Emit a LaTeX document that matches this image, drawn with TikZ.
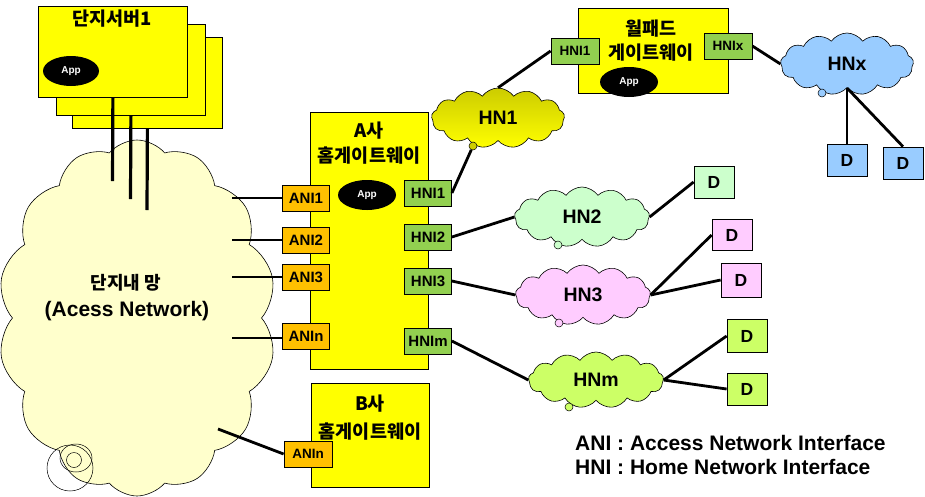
\documentclass[tikz,border=0pt]{standalone}
\usepackage{fontspec}
\setmainfont{Liberation Sans}
\newfontfamily\kr{Noto Sans CJK KR}
\usetikzlibrary{shapes.symbols,shapes.geometric}
\definecolor{boxyellow}{HTML}{FFFF00}
\definecolor{aniorange}{HTML}{FFC000}
\definecolor{hnigreen}{HTML}{92D050}
\definecolor{acloud}{HTML}{FFFFCC}
\definecolor{olive}{HTML}{CCCC00}
\definecolor{hblue}{HTML}{99CCFF}
\definecolor{hgreen}{HTML}{CCFFCC}
\definecolor{hpink}{HTML}{FFCCFF}
\definecolor{hlime}{HTML}{CCFF66}
\tikzset{
 gwbox/.style={draw, line width=0.8pt, fill=boxyellow, inner sep=0, anchor=north west},
 title/.style={font=\kr\bfseries\fontsize{18.5}{20}\selectfont, inner sep=0},
 ani/.style={draw, line width=0.8pt, fill=aniorange, minimum width=47pt, minimum height=26pt, inner sep=0, font=\bfseries\fontsize{15}{15}\selectfont},
 hni/.style={draw, line width=0.8pt, fill=hnigreen, minimum width=47pt, minimum height=26pt, inner sep=0, font=\bfseries\fontsize{15}{15}\selectfont},
 app/.style={ellipse, fill=black, text=white, minimum width=58pt, minimum height=30pt, inner sep=0, font=\bfseries\fontsize{10}{10}\selectfont},
 conn/.style={line width=2.8pt},
 netcloud/.style={cloud, cloud puffs=13, cloud puff arc=110, cloud ignores aspect, draw, line width=0.6pt, inner sep=0, font=\bfseries\fontsize{19.5}{19.5}\selectfont},
 dev/.style={draw, line width=0.8pt, minimum width=40pt, minimum height=32pt, inner sep=0, font=\bfseries\fontsize{17.5}{17.5}\selectfont},
 knob/.style={circle, draw, line width=0.5pt, minimum size=8pt, inner sep=0},
 legend/.style={anchor=west, inner sep=0, font=\bfseries\fontsize{21}{21}\selectfont}
}
\begin{document}
\begin{tikzpicture}[x=1pt,y=-1pt]
\useasboundingbox (0,0) rectangle (925,496);

% ---- access network cloud
\node[netcloud, fill=acloud, cloud puffs=14, cloud puff arc=100, minimum width=278pt, minimum height=356pt] (acn) at (137,318) {};
\draw[line width=0.5pt] (70,468) circle (23);
\draw[line width=0.5pt] (76,458) ellipse (16 and 14);
\draw[line width=0.5pt] (74,460) circle (7.5);
\node[title, font=\kr\bfseries\fontsize{18}{18}\selectfont] (acnt1) at (126,283) {단지내 망};
\node[inner sep=0, font=\bfseries\fontsize{21}{21}\selectfont] (acnt2) at (127,311) {(Acess Network)};

% ---- servers
\node[gwbox, minimum width=150pt, minimum height=91pt] (srv3) at (72,37) {};
\node[gwbox, minimum width=149pt, minimum height=91pt] (srv2) at (56,24) {};
\node[gwbox, minimum width=149pt, minimum height=91pt] (srv1) at (38,6) {};
\node[title] (srvt) at (112,19) {단지서버1};
\node[app, minimum width=56pt] (sapp) at (71,71) {App};
\coordinate (s1e) at (112.5,181);
\coordinate (s2e) at (130.5,199);
\coordinate (s3e) at (147,210);
\draw[line width=3.2pt] (srv1.south) -- (s1e);
\draw[line width=3.2pt] (srv2.south) -- (s2e);
\draw[line width=3.2pt] (srv3.south) -- (s3e);

% ---- A gateway
\node[gwbox, minimum width=118pt, minimum height=257pt] (gwa) at (310,112) {};
\node[title] (gwat1) at (369,131) {A사};
\node[title] (gwat2) at (369,156) {홈게이트웨이};
\node[app] (aapp) at (367,195) {App};
\node[ani] (ani1) at (306,198) {ANI1};
\node[ani] (ani2) at (306,240) {ANI2};
\node[ani] (ani3) at (306,277) {ANI3};
\node[ani] (anin) at (306,336) {ANIn};
\node[hni] (hni1) at (428,193) {HNI1};
\node[hni] (hni2) at (428,237) {HNI2};
\node[hni] (hni3) at (428,281) {HNI3};
\node[hni] (hnim) at (428,341) {HNIm};
\coordinate (a1s) at (232,198);
\coordinate (a2s) at (232,240);
\coordinate (a3s) at (232,277);
\coordinate (ans) at (232,338);
\draw[conn] (a1s) -- (ani1.west);
\draw[conn] (a2s) -- (ani2.west);
\draw[conn] (a3s) -- (ani3.west);
\draw[conn] (ans) -- (ani3.west |- ans);

% ---- B gateway
\node[gwbox, minimum width=118pt, minimum height=104pt] (gwb) at (311,383) {};
\node[title] (gwbt1) at (370,404) {B사};
\node[title] (gwbt2) at (370,432) {홈게이트웨이};
\node[ani, font=\bfseries\fontsize{13.5}{13.5}\selectfont, minimum width=48pt] (banin) at (308,454) {ANIn};
\coordinate (bs) at (218,429);
\draw[conn] (bs) -- (banin.west);

% ---- wallpad gateway
\node[gwbox, minimum width=150pt, minimum height=85pt] (wgw) at (578,8) {};
\node[title] (wgwt1) at (651,29) {월패드};
\node[title] (wgwt2) at (651,53) {게이트웨이};
\node[app] (wapp) at (629,82) {App};
\node[hni, font=\bfseries\fontsize{13.5}{13.5}\selectfont, minimum width=48pt] (whni1) at (575,51) {HNI1};
\node[hni, font=\bfseries\fontsize{13.5}{13.5}\selectfont, minimum width=48pt] (whnix) at (728,46) {HNIx};

% ---- home network clouds
\node[netcloud, top color=olive, bottom color=boxyellow, minimum width=133pt, minimum height=60pt] (hn1) at (498,118) {HN1};
\node[knob, fill=olive] (hn1k) at (473,146) {};
\node[netcloud, fill=hblue, minimum width=133pt, minimum height=62pt] (hnx) at (847,64) {HNx};
\node[knob, fill=hblue] (hnxk) at (822,93) {};
\node[netcloud, fill=hgreen, minimum width=135pt, minimum height=60pt] (hn2) at (582,217) {HN2};
\node[knob, fill=hgreen] (hn2k) at (558,245) {};
\node[netcloud, fill=hpink, minimum width=135pt, minimum height=60pt] (hn3) at (583,295) {HN3};
\node[knob, fill=hpink] (hn3k) at (559,323) {};
\node[netcloud, fill=hlime, minimum width=135pt, minimum height=56pt] (hnm) at (596,380) {HNm};
\node[knob, fill=hlime] (hnmk) at (569,407) {};

% ---- devices
\node[dev, fill=hblue] (dx1) at (847,160) {D};
\node[dev, fill=hblue] (dx2) at (903,163) {D};
\node[dev, fill=hgreen] (d2) at (714,182) {D};
\node[dev, fill=hpink, minimum height=31pt] (d3a) at (732,235) {D};
\node[dev, fill=hpink, minimum height=34pt] (d3b) at (741,280) {D};
\node[dev, fill=hlime, minimum height=33pt] (dma) at (747,336) {D};
\node[dev, fill=hlime] (dmb) at (747,389) {D};

% ---- connectors
\draw[conn] (hni1.east) -- (hn1k);
\draw[conn] (whni1.west) -- (hn1.north);
\draw[conn] (whnix.east) -- (hnx.west);
\draw[conn] (hnx.south) -- (dx1.north);
\draw[conn] (hnx.south) -- (dx2.north);
\draw[conn] (hni2.east) -- (hn2.west);
\draw[conn] (hn2.east) -- (d2.west);
\draw[conn] (hni3.east) -- (hn3.west);
\draw[conn] (hn3.east) -- (d3a.west);
\draw[conn] (hn3.east) -- (d3b.west);
\draw[conn] (hnim.east) -- (hnm.west);
\draw[conn] (hnm.east) -- (dma.west);
\draw[conn] (hnm.east) -- (dmb.west);

% ---- legend
\node[legend] (lg1) at (575,443) {ANI : Access Network Interface};
\node[legend] (lg2) at (575,467) {HNI : Home Network Interface};
\end{tikzpicture}
\end{document}
